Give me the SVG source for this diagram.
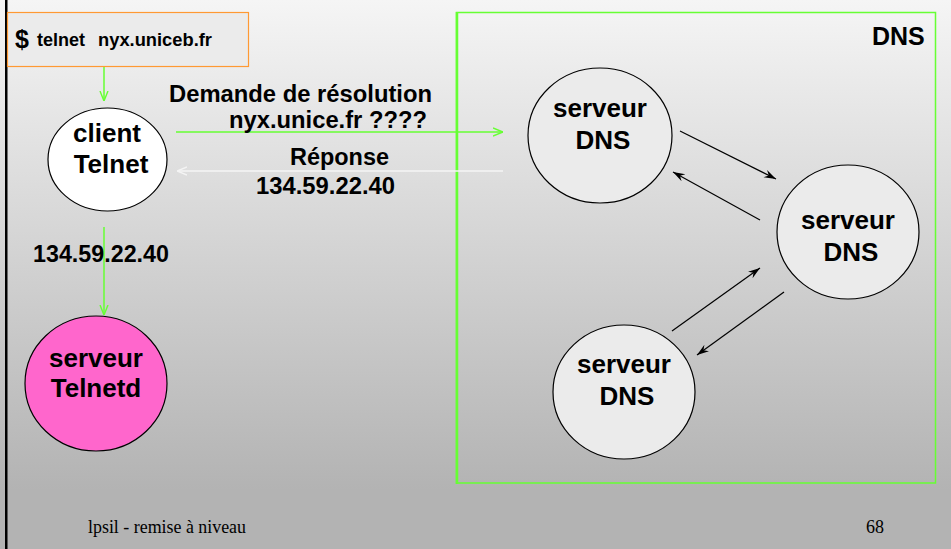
<svg xmlns="http://www.w3.org/2000/svg" width="951" height="549" viewBox="0 0 951 549">
  <defs>
    <linearGradient id="bg" x1="0" y1="0" x2="0" y2="490" gradientUnits="userSpaceOnUse">
      <stop offset="0" stop-color="#f5f5f5"/>
      <stop offset="1" stop-color="#b3b3b3"/>
    </linearGradient>
    <marker id="gArrow" viewBox="0 0 10 10" refX="10" refY="5" markerWidth="10" markerHeight="10" markerUnits="userSpaceOnUse" orient="auto">
      <path d="M0,1 L10,5 L0,9" fill="none" stroke="#66ff33" stroke-width="1.4"/>
    </marker>
    <marker id="wArrow" viewBox="0 0 10 10" refX="10" refY="5" markerWidth="10" markerHeight="10" markerUnits="userSpaceOnUse" orient="auto">
      <path d="M0,1 L10,5 L0,9" fill="none" stroke="#f4f4f4" stroke-width="1.4"/>
    </marker>
    <marker id="kArrow" viewBox="0 0 12 10" refX="12" refY="5" markerWidth="12" markerHeight="10" markerUnits="userSpaceOnUse" orient="auto">
      <path d="M0,1 L12,5 L0,9 L4,5 Z" fill="#000"/>
    </marker>
  </defs>
  <style>
    .t { font-family: "Liberation Sans", Arial, sans-serif; font-weight: bold; fill: #000; }
    .node { stroke: #000; stroke-width: 1.2; }
    .dns { fill: #ebebeb; }
    .g { stroke: #66ff33; stroke-width: 1.5; fill: none; }
    .k { stroke: #000; stroke-width: 1.2; fill: none; }
    .foot { font-family: "Liberation Serif", "Times New Roman", serif; font-size: 18px; fill: #000; }
  </style>

  <!-- slide background -->
  <rect x="0" y="0" width="951" height="549" fill="url(#bg)"/>
  <rect x="5" y="0" width="2.5" height="549" fill="#000"/>

  <!-- DNS zone -->
  <g id="dns-zone">
    <rect x="456.5" y="12.5" width="479" height="470.5" fill="none" stroke="#66ff33" stroke-width="1.5"/>
    <line x1="457" y1="12" x2="457" y2="484" stroke="#66ff33" stroke-width="2.5"/>
    <text class="t" x="872" y="45" font-size="25">DNS</text>
  </g>

  <!-- command box -->
  <g id="cmd">
    <rect x="7.5" y="12.5" width="241" height="54" fill="#ebebeb" stroke="#ff9933" stroke-width="1.2"/>
    <text class="t" x="15" y="48" font-size="25">$</text>
    <text class="t" x="37" y="46" font-size="18">telnet</text>
    <text class="t" x="98" y="46" font-size="18" textLength="114" lengthAdjust="spacingAndGlyphs">nyx.uniceb.fr</text>
  </g>

  <!-- client -->
  <g id="client">
    <ellipse class="node" cx="107.5" cy="159.5" rx="59.5" ry="51.5" fill="#ffffff"/>
    <text class="t" x="107" y="142" font-size="26" text-anchor="middle">client</text>
    <text class="t" x="111" y="173" font-size="26" text-anchor="middle">Telnet</text>
  </g>

  <!-- telnet server -->
  <g id="telnetd">
    <ellipse class="node" cx="96" cy="383.5" rx="71" ry="67.5" fill="#ff66cc"/>
    <text class="t" x="96" y="367" font-size="26" text-anchor="middle">serveur</text>
    <text class="t" x="96" y="397" font-size="26" text-anchor="middle">Telnetd</text>
  </g>

  <!-- DNS servers -->
  <g id="dns1">
    <ellipse class="node dns" cx="600" cy="135.5" rx="72" ry="67.5"/>
    <text class="t" x="600" y="117" font-size="26" text-anchor="middle">serveur</text>
    <text class="t" x="603" y="149" font-size="26" text-anchor="middle">DNS</text>
  </g>
  <g id="dns2">
    <ellipse class="node dns" cx="848" cy="232" rx="71" ry="67"/>
    <text class="t" x="848" y="229" font-size="26" text-anchor="middle">serveur</text>
    <text class="t" x="851" y="261" font-size="26" text-anchor="middle">DNS</text>
  </g>
  <g id="dns3">
    <ellipse class="node dns" cx="624" cy="392" rx="71" ry="67"/>
    <text class="t" x="624" y="373" font-size="26" text-anchor="middle">serveur</text>
    <text class="t" x="627" y="405" font-size="26" text-anchor="middle">DNS</text>
  </g>

  <!-- connectors -->
  <g id="connectors">
    <line class="g" x1="104" y1="67" x2="104" y2="101" marker-end="url(#gArrow)"/>
    <line class="g" x1="104" y1="227" x2="104" y2="315" marker-end="url(#gArrow)"/>
    <line class="g" x1="176" y1="132" x2="503" y2="132" marker-end="url(#gArrow)"/>
    <line x1="503" y1="171" x2="177" y2="171" stroke="#f4f4f4" stroke-width="1.5" marker-end="url(#wArrow)"/>
    <line class="k" x1="680" y1="131" x2="776" y2="179" marker-end="url(#kArrow)"/>
    <line class="k" x1="760" y1="220" x2="673" y2="172" marker-end="url(#kArrow)"/>
    <line class="k" x1="672" y1="331" x2="760" y2="268" marker-end="url(#kArrow)"/>
    <line class="k" x1="784" y1="292" x2="697" y2="355" marker-end="url(#kArrow)"/>
  </g>

  <!-- connector labels -->
  <g id="labels">
    <text class="t" x="169" y="102" font-size="23" textLength="263" lengthAdjust="spacingAndGlyphs">Demande de résolution</text>
    <text class="t" x="229" y="128" font-size="23" textLength="198" lengthAdjust="spacingAndGlyphs">nyx.unice.fr ????</text>
    <text class="t" x="290" y="165" font-size="23" textLength="99" lengthAdjust="spacingAndGlyphs">Réponse</text>
    <text class="t" x="256" y="194" font-size="23" textLength="139" lengthAdjust="spacingAndGlyphs">134.59.22.40</text>
    <text class="t" x="33" y="262" font-size="23" textLength="136" lengthAdjust="spacingAndGlyphs">134.59.22.40</text>
  </g>

  <!-- footer -->
  <text class="foot" x="88" y="533" textLength="158" lengthAdjust="spacingAndGlyphs">lpsil - remise à niveau</text>
  <text class="foot" x="866" y="533">68</text>
</svg>
